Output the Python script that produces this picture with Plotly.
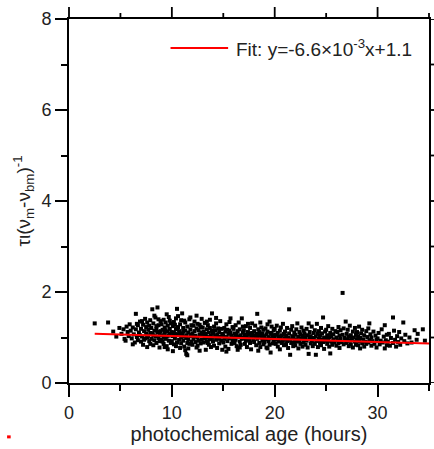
import numpy as np
import plotly.graph_objects as go

# ---- data: photochemical age (hours) vs tau ratio ----
points = [
    (2.5,1.31),(3.8,1.33),
    (4.3,1.13),(4.6,1.02),(4.9,1.21),
    (5.1,1.08),(5.3,1.18),(5.4,0.97),(5.6,1.24),(5.7,1.12),(5.8,1.03),(5.9,1.29),(5.5,0.93),
    (6.0,1.15),(6.1,0.98),(6.2,1.22),(6.3,1.07),(6.4,0.89),(6.5,1.52),(6.5,1.18),(6.6,1.01),(6.7,1.27),(6.7,0.94),(6.8,1.11),(6.9,1.35),(6.9,1.05),(6.2,0.85),(6.6,1.30),
    (7.0,1.19),(7.0,0.91),(7.1,1.02),(7.2,1.28),(7.2,0.84),(7.3,1.14),(7.4,1.41),(7.4,0.98),(7.5,1.08),(7.5,1.23),(7.6,0.79),(7.6,1.33),(7.7,1.04),(7.7,1.17),(7.8,0.92),(7.8,1.26),(7.9,1.10),(7.9,1.38),(7.3,0.95),(7.1,1.36),(7.6,1.00),(7.9,0.86),
    (8.0,1.21),(8.0,0.97),(8.1,1.62),(8.1,1.09),(8.2,0.83),(8.2,1.31),(8.3,1.15),(8.3,0.94),(8.4,1.44),(8.4,1.03),(8.5,1.19),(8.5,0.88),(8.6,1.66),(8.6,1.12),(8.7,0.99),(8.7,1.27),(8.8,1.07),(8.8,0.78),(8.9,1.36),(8.9,1.14),(8.2,1.05),(8.5,1.25),(8.8,0.92),(8.3,1.48),(8.7,1.40),
    (9.0,1.05),(9.0,1.29),(9.1,0.91),(9.1,1.17),(9.2,1.39),(9.2,0.86),(9.3,1.10),(9.3,1.22),(9.4,0.97),(9.4,1.33),(9.5,1.02),(9.5,0.81),(9.6,1.26),(9.6,1.13),(9.7,0.93),(9.7,1.45),(9.8,1.08),(9.8,1.19),(9.9,0.88),(9.9,1.31),(9.2,1.00),(9.4,1.16),(9.6,0.74),(9.8,1.37),(9.0,0.95),(9.5,1.51),(9.3,0.79),(9.7,1.04),
    (10.0,1.12),(10.0,0.92),(10.1,1.25),(10.1,1.03),(10.2,0.85),(10.2,1.34),(10.3,1.08),(10.3,0.98),(10.4,1.18),(10.4,1.42),(10.5,1.63),(10.5,0.89),(10.6,1.06),(10.6,1.23),(10.7,0.95),(10.7,1.14),(10.8,0.77),(10.8,1.29),(10.9,1.01),(10.9,1.38),(10.2,1.10),(10.4,0.81),(10.6,1.47),(10.8,1.09),(10.1,0.70),(10.5,1.20),(10.9,0.87),(10.3,1.28),
    (11.0,1.53),(11.0,1.07),(11.1,0.93),(11.1,1.21),(11.2,1.02),(11.2,0.80),(11.3,1.15),(11.3,1.33),(11.4,0.64),(11.4,1.05),(11.5,0.61),(11.5,1.24),(11.6,0.96),(11.6,1.11),(11.7,1.40),(11.7,0.86),(11.8,1.03),(11.8,1.18),(11.9,0.91),(11.9,1.27),(11.2,1.37),(11.4,0.99),(11.6,0.76),(11.8,1.44),(11.1,1.13),(11.5,0.88),(11.9,1.06),(11.3,0.72),
    (12.0,1.09),(12.0,0.84),(12.1,1.26),(12.1,0.97),(12.2,1.14),(12.2,1.35),(12.3,0.90),(12.3,1.04),(12.4,1.20),(12.4,0.78),(12.5,1.00),(12.5,1.30),(12.6,0.93),(12.6,1.16),(12.7,1.07),(12.7,0.71),(12.8,1.23),(12.8,0.87),(12.9,1.11),(12.9,1.41),(12.2,1.02),(12.5,0.82),(12.7,1.28),(12.9,0.95),(12.4,1.48),
    (13.0,1.06),(13.0,1.22),(13.1,0.89),(13.1,1.13),(13.2,0.98),(13.2,1.32),(13.3,0.73),(13.3,1.08),(13.4,1.18),(13.4,0.92),(13.5,1.01),(13.5,1.27),(13.6,0.84),(13.6,1.11),(13.7,1.39),(13.7,0.96),(13.8,1.04),(13.8,0.79),(13.9,1.53),(13.9,1.15),(13.2,1.05),(13.5,0.88),(13.7,1.21),(13.9,0.99),(13.4,1.35),
    (14.0,1.10),(14.0,0.91),(14.1,1.24),(14.1,0.82),(14.2,1.03),(14.2,1.16),(14.3,0.95),(14.3,1.31),(14.4,1.07),(14.4,0.77),(14.5,1.20),(14.5,0.99),(14.6,1.12),(14.6,0.87),(14.7,1.36),(14.7,1.02),(14.8,0.93),(14.8,1.19),(14.9,0.73),(14.9,1.08),(14.3,1.43),(14.6,0.97),
    (15.0,1.05),(15.0,0.89),(15.1,1.21),(15.1,0.97),(15.2,1.13),(15.2,0.80),(15.3,1.29),(15.3,1.01),(15.4,0.92),(15.4,1.17),(15.5,1.08),(15.5,0.75),(15.6,1.34),(15.6,0.98),(15.7,1.42),(15.7,1.10),(15.8,0.86),(15.8,1.04),(15.9,1.23),(15.9,0.94),(15.3,0.69),(15.6,1.15),
    (16.0,1.00),(16.0,1.19),(16.1,0.88),(16.1,1.09),(16.2,1.27),(16.2,0.95),(16.3,1.06),(16.3,0.81),(16.4,0.73),(16.4,1.14),(16.5,1.02),(16.5,1.33),(16.6,0.91),(16.6,1.18),(16.7,1.05),(16.7,0.84),(16.8,1.42),(16.8,0.97),(16.9,1.11),(16.9,1.24),(16.2,1.03),(16.6,0.78),
    (17.0,0.99),(17.0,1.16),(17.1,0.86),(17.1,1.07),(17.2,1.25),(17.2,0.93),(17.3,1.03),(17.3,0.79),(17.4,1.12),(17.4,1.30),(17.5,0.96),(17.5,1.08),(17.6,0.88),(17.6,1.21),(17.7,1.01),(17.7,0.74),(17.8,1.31),(17.8,1.10),(17.9,0.94),(17.9,1.04),
    (18.0,1.14),(18.0,0.90),(18.1,1.02),(18.1,1.26),(18.2,0.83),(18.2,1.08),(18.3,1.52),(18.3,0.97),(18.4,1.18),(18.4,1.04),(18.5,0.88),(18.5,1.12),(18.6,1.33),(18.6,0.79),(18.7,1.00),(18.7,1.22),(18.8,0.93),(18.8,1.09),(18.9,1.17),(18.9,0.85),(18.4,0.71),(18.7,1.05),
    (19.0,1.03),(19.0,0.89),(19.1,1.20),(19.1,0.96),(19.2,1.07),(19.2,0.78),(19.3,1.13),(19.3,1.29),(19.4,0.92),(19.4,1.01),(19.5,1.35),(19.5,0.84),(19.6,0.67),(19.6,1.10),(19.7,0.98),(19.7,1.24),(19.8,1.05),(19.8,0.87),(19.9,1.16),(19.9,0.94),(19.3,0.76),(19.7,1.08),
    (20.0,1.01),(20.0,1.19),(20.1,0.86),(20.1,1.06),(20.2,0.95),(20.2,1.26),(20.3,1.10),(20.3,0.80),(20.4,1.02),(20.4,0.91),(20.5,1.15),(20.5,0.74),(20.6,0.98),(20.6,1.22),(20.7,1.05),(20.7,0.88),(20.8,1.30),(20.8,0.93),(20.9,1.08),(20.9,0.83),
    (21.0,0.97),(21.0,1.13),(21.1,0.85),(21.1,1.04),(21.2,1.21),(21.2,0.92),(21.3,1.00),(21.3,0.77),(21.4,1.62),(21.4,1.09),(21.5,0.62),(21.5,0.95),(21.6,1.17),(21.6,0.88),(21.7,1.03),(21.7,1.25),(21.8,0.81),(21.8,0.99),(21.9,1.11),(21.9,0.90),
    (22.0,1.06),(22.0,0.83),(22.1,0.96),(22.1,1.18),(22.2,1.31),(22.2,0.91),(22.3,1.02),(22.3,0.76),(22.4,1.12),(22.4,0.94),(22.5,0.86),(22.5,1.07),(22.6,1.22),(22.6,0.98),(22.7,0.80),(22.7,1.04),(22.8,1.15),(22.8,0.89),(22.9,0.97),(22.9,1.09),
    (23.0,1.01),(23.0,0.84),(23.1,1.19),(23.1,0.93),(23.2,1.05),(23.2,0.78),(23.3,1.31),(23.3,0.64),(23.4,0.97),(23.4,1.12),(23.5,0.87),(23.5,1.03),(23.6,1.24),(23.6,0.91),(23.7,0.99),(23.7,0.81),(23.8,1.10),(23.8,0.95),(23.9,1.16),(23.9,0.86),
    (24.0,0.62),(24.0,1.02),(24.1,1.30),(24.1,0.92),(24.2,1.08),(24.2,0.79),(24.3,0.97),(24.3,1.14),(24.4,0.88),(24.4,1.04),(24.5,1.21),(24.5,0.83),(24.6,0.95),(24.6,1.09),(24.7,1.44),(24.7,0.90),(24.8,1.00),(24.8,0.75),(24.9,1.13),(24.9,0.93),
    (25.0,0.98),(25.0,1.17),(25.1,0.86),(25.1,1.05),(25.2,0.93),(25.2,1.25),(25.3,1.01),(25.3,0.80),(25.4,0.65),(25.4,1.10),(25.5,0.91),(25.5,1.03),(25.6,1.19),(25.6,0.84),(25.7,0.96),(25.7,1.07),(25.8,0.89),(25.9,1.14),
    (26.0,1.00),(26.0,0.82),(26.1,1.12),(26.1,0.94),(26.2,1.23),(26.2,0.87),(26.3,1.04),(26.3,0.77),(26.4,0.97),(26.4,1.16),(26.5,0.90),(26.6,1.98),(26.6,1.06),(26.7,0.85),(26.8,0.99),(26.9,1.35),(26.9,0.93),(26.7,1.20),
    (27.0,1.08),(27.0,0.88),(27.1,0.96),(27.1,1.17),(27.2,0.81),(27.2,1.02),(27.3,0.93),(27.3,1.26),(27.4,0.85),(27.4,1.05),(27.5,0.97),(27.6,1.13),(27.6,0.78),(27.7,1.00),(27.8,0.91),(27.8,1.21),(27.9,0.84),(27.9,1.06),
    (28.0,0.95),(28.0,1.12),(28.1,0.83),(28.1,1.03),(28.2,0.92),(28.2,1.24),(28.3,0.76),(28.3,0.99),(28.4,1.09),(28.5,0.87),(28.5,1.17),(28.6,0.96),(28.7,0.80),(28.7,1.05),(28.8,0.91),(28.9,1.14),(28.9,0.86),
    (29.0,1.01),(29.1,0.89),(29.1,1.20),(29.2,1.31),(29.2,0.94),(29.3,1.07),(29.4,0.82),(29.4,1.00),(29.5,0.92),(29.6,1.13),(29.7,0.86),(29.8,1.04),(29.9,0.95),(29.9,0.78),
    (30.0,0.98),(30.1,1.10),(30.2,0.85),(30.3,0.93),(30.4,1.18),(30.5,0.89),(30.6,1.02),(30.7,1.27),(30.7,0.76),(30.8,0.94),(30.9,0.83),(30.9,1.06),
    (31.0,0.91),(31.1,1.08),(31.2,0.82),(31.3,0.99),(31.5,1.44),(31.5,0.88),(31.6,1.15),(31.7,0.95),(31.8,0.80),(31.9,1.03),
    (32.0,0.90),(32.1,1.12),(32.2,0.84),(32.3,0.98),(32.5,1.33),(32.6,0.92),(32.7,1.06),(32.9,0.87),
    (33.1,1.00),(33.3,0.89),(33.6,1.16),(33.8,0.95),(33.9,1.08),
    (34.4,1.18),(34.6,0.93),
]
age_hours = [p[0] for p in points]
tau_ratio = [p[1] for p in points]

fit_slope = -6.6e-3
fit_intercept = 1.1
fit_x = [2.5, 35.0]

x_range = [0, 35]
y_range = [0, 8]
x_ticks = [0, 10, 20, 30]
x_minor = [5, 15, 25, 35]
y_ticks = [0, 2, 4, 6, 8]
y_minor = [1, 3, 5, 7]

FONT = "Liberation Sans, Arial, sans-serif"
TXT = "#222222"
MAJOR_LEN, MINOR_LEN, TW = 12, 6, 1.8
PLOT_H = 449 - 19 - 66

fit_y = [fit_slope * v + fit_intercept for v in fit_x]

fig = go.Figure()
fig.add_trace(go.Scatter(
    x=age_hours, y=tau_ratio, mode="markers",
    marker=dict(symbol="square", size=4, color="black", line=dict(width=0)),
    showlegend=False,
))
fig.add_trace(go.Scatter(
    x=fit_x, y=fit_y, mode="lines",
    line=dict(color="#ff0000", width=2),
    showlegend=False,
))

tick_common = dict(
    showline=True, linecolor="black", linewidth=TW, mirror=True,
    ticks="outside", tickwidth=TW, ticklen=MAJOR_LEN, tickcolor="black",
    showgrid=False, zeroline=False,
    tickfont=dict(family=FONT, size=18, color=TXT),
)

# mirrored ticks on top / right axes (decoration drawn from tick lists)
tick_shapes = []
for v, ln in [(t, MAJOR_LEN) for t in x_ticks] + [(t, MINOR_LEN) for t in x_minor]:
    px = (v - x_range[0]) / (x_range[1] - x_range[0])
    tick_shapes.append(dict(type="line", xref="paper", yref="paper", layer="above",
                            x0=px, x1=px, y0=1.0, y1=1.0 + ln / PLOT_H,
                            line=dict(color="black", width=TW)))
for v, ln in [(t, MAJOR_LEN) for t in y_ticks] + [(t, MINOR_LEN) for t in y_minor]:
    tick_shapes.append(dict(type="line", xref="paper", yref="y", xsizemode="pixel", xanchor=1,
                            x0=0, x1=ln, y0=v, y1=v, line=dict(color="black", width=TW)))

fig.update_layout(
    width=434, height=449,
    margin=dict(l=69, r=3, t=19, b=66),
    paper_bgcolor="white", plot_bgcolor="white",
    showlegend=False,
    xaxis=dict(
        range=x_range, tickvals=x_ticks,
        minor=dict(ticks="outside", tickvals=x_minor, ticklen=MINOR_LEN, tickwidth=TW, tickcolor="black", showgrid=False),
        title=dict(text="photochemical age (hours)", font=dict(family=FONT, size=20, color=TXT), standoff=2),
        **tick_common,
    ),
    yaxis=dict(
        range=y_range, tickvals=y_ticks,
        minor=dict(ticks="outside", tickvals=y_minor, ticklen=MINOR_LEN, tickwidth=TW, tickcolor="black", showgrid=False),
        title=dict(text="τι(ν<sub>m</sub>-ν<sub>bm</sub>)<sup>-1</sup>", font=dict(family=FONT, size=19, color=TXT), standoff=6),
        **tick_common,
    ),
    shapes=tick_shapes + [
        dict(type="line", xref="paper", yref="paper", x0=0.282, x1=0.442, y0=0.92, y1=0.92,
             line=dict(color="#ff0000", width=2)),
        dict(type="line", xref="paper", yref="paper", x0=-0.172, x1=-0.162, y0=-0.148, y1=-0.148,
             line=dict(color="#ff0000", width=3)),
    ],
    annotations=[
        dict(text="Fit: y=-6.6×10<sup>-3</sup>x+1.1", xref="paper", yref="paper",
             x=0.457, y=0.92, xanchor="left", yanchor="middle", showarrow=False,
             font=dict(family=FONT, size=19, color=TXT)),
    ],
)

fig.write_html(
    "out.html",
    config={"displayModeBar": False},
    post_script="document.body.style.margin='0';document.body.style.overflow='hidden';",
)
